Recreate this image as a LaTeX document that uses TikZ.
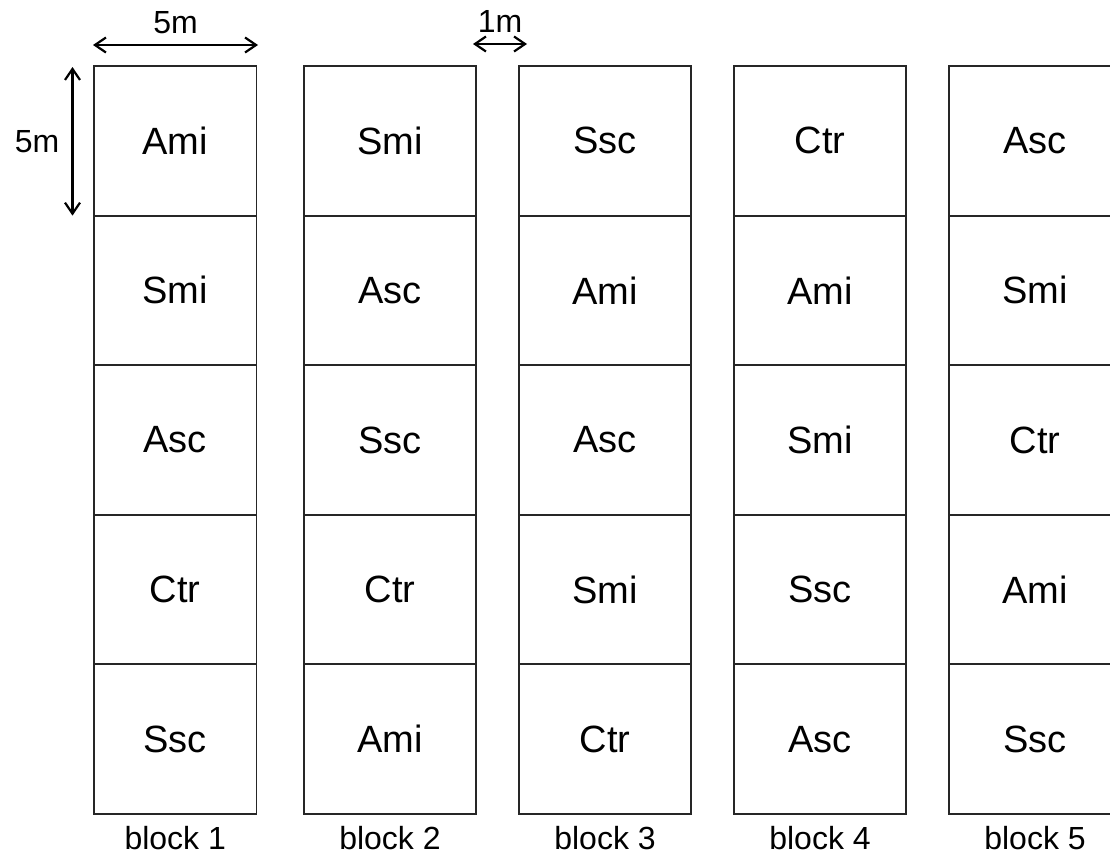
\documentclass[tikz,border=0pt]{standalone}
\usepackage{fontspec}
\setmainfont{Liberation Sans}
\usetikzlibrary{positioning,arrows.meta}
\tikzset{
  plot/.style={rectangle, draw=black!85, line width=1.9pt, inner sep=0pt, outer sep=0pt,
               minimum width=172pt, minimum height=149.6pt, font=\fontsize{38}{40}\selectfont},
  lbl/.style={inner sep=0pt, font=\fontsize{32}{34}\selectfont},
  dim/.style={{Straight Barb[length=11pt,width=15pt]}-{Straight Barb[length=11pt,width=15pt]},
              line width=2.2pt, draw=black}
}

\begin{document}
\begin{tikzpicture}[x=1pt, y=-1pt]
\useasboundingbox (0,0) rectangle (1110,857);

% block 1 (a bit narrower than the others)
\node[plot, minimum width=162.5pt, anchor=north west] (b1p1) at (94,66) {Ami};
\node[plot, minimum width=162.5pt, below=0pt of b1p1] (b1p2) {Smi};
\node[plot, minimum width=162.5pt, below=0pt of b1p2] (b1p3) {Asc};
\node[plot, minimum width=162.5pt, below=0pt of b1p3] (b1p4) {Ctr};
\node[plot, minimum width=162.5pt, below=0pt of b1p4] (b1p5) {Ssc};

% block 2
\node[plot, anchor=north west] (b2p1) at (304,66) {Smi};
\node[plot, below=0pt of b2p1] (b2p2) {Asc};
\node[plot, below=0pt of b2p2] (b2p3) {Ssc};
\node[plot, below=0pt of b2p3] (b2p4) {Ctr};
\node[plot, below=0pt of b2p4] (b2p5) {Ami};

% block 3
\node[plot, right=43pt of b2p1] (b3p1) {Ssc};
\node[plot, below=0pt of b3p1] (b3p2) {Ami};
\node[plot, below=0pt of b3p2] (b3p3) {Asc};
\node[plot, below=0pt of b3p3] (b3p4) {Smi};
\node[plot, below=0pt of b3p4] (b3p5) {Ctr};

% block 4
\node[plot, right=43pt of b3p1] (b4p1) {Ctr};
\node[plot, below=0pt of b4p1] (b4p2) {Ami};
\node[plot, below=0pt of b4p2] (b4p3) {Smi};
\node[plot, below=0pt of b4p3] (b4p4) {Ssc};
\node[plot, below=0pt of b4p4] (b4p5) {Asc};

% block 5
\node[plot, right=43pt of b4p1] (b5p1) {Asc};
\node[plot, below=0pt of b5p1] (b5p2) {Smi};
\node[plot, below=0pt of b5p2] (b5p3) {Ctr};
\node[plot, below=0pt of b5p3] (b5p4) {Ami};
\node[plot, below=0pt of b5p4] (b5p5) {Ssc};

% block names
\node[lbl] at ([yshift=-24.5pt]b1p5.south) {block 1};
\node[lbl] at ([yshift=-24.5pt]b2p5.south) {block 2};
\node[lbl] at ([yshift=-24.5pt]b3p5.south) {block 3};
\node[lbl] at ([yshift=-24.5pt]b4p5.south) {block 4};
\node[lbl] at ([yshift=-24.5pt]b5p5.south) {block 5};

% dimensions
\draw[dim] ([xshift=-1pt, yshift=21pt]b1p1.north west) -- ([xshift=1.5pt, yshift=21pt]b1p1.north east)
  node[lbl, midway, above=10pt] {5m};
\draw[dim] ([xshift=-21.5pt, yshift=-1pt]b1p1.north west) -- ([xshift=-21.5pt]b1p1.south west)
  node[lbl, midway, left=12pt] {5m};
\draw[dim] ([xshift=-3pt, yshift=22pt]b2p1.north east) -- ([xshift=8pt, yshift=22pt]b3p1.north west)
  node[lbl, midway, above=10pt] {1m};
\end{tikzpicture}
\end{document}
